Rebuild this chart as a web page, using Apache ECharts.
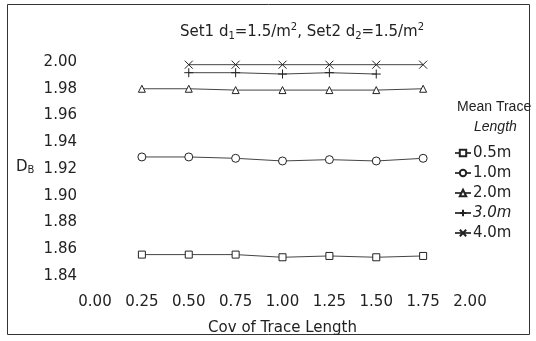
<!DOCTYPE html>
<html>
<head>
<meta charset="utf-8">
<script src="https://cdn.jsdelivr.net/npm/echarts@6/dist/echarts.min.js"></script>
<style>
  html, body { margin: 0; padding: 0; background: #fff; }
  #myChart { width: 536px; height: 341px; }
</style>
</head>
<body>
<div id="myChart"></div>
<script>
// cov of trace length (x)
var covAll = [0.25, 0.5, 0.75, 1.0, 1.25, 1.5, 1.75];
var cov3 = [0.5, 0.75, 1.0, 1.25, 1.5];
var cov4 = [0.5, 0.75, 1.0, 1.25, 1.5, 1.75];

// D_B values per mean trace length
var db05 = [1.856, 1.856, 1.856, 1.854, 1.855, 1.854, 1.855];
var db10 = [1.929, 1.929, 1.928, 1.926, 1.927, 1.926, 1.928];
var db20 = [1.980, 1.980, 1.979, 1.979, 1.979, 1.979, 1.980];
var db30 = [1.992, 1.992, 1.991, 1.992, 1.991];
var db40 = [1.998, 1.998, 1.998, 1.998, 1.998, 1.998];

var names = ['0.5m', '1.0m', '2.0m', '3.0m', '4.0m'];

var FONT = 'DejaVu Sans';
var INK = '#222';

function pairs(xs, ys) {
  var out = [];
  for (var i = 0; i < xs.length; i++) {
    out.push([xs[i], ys[i]]);
  }
  return out;
}

function mkSeries(name, xs, ys, symbol, size) {
  return {
    name: name,
    type: 'line',
    data: pairs(xs, ys),
    symbol: symbol,
    symbolSize: size,
    showAllSymbol: true,
    lineStyle: { color: '#444', width: 1 },
    itemStyle: { color: '#fff', borderColor: '#222', borderWidth: 1 },
    emphasis: { disabled: true },
    animation: false
  };
}

var plusPath = 'path://M0,5L10,5M5,0L5,10';
var crossPath = 'path://M0,0L10,10M10,0L0,10';

var myChart = echarts.init(document.getElementById('myChart'));

myChart.setOption({
  backgroundColor: '#fff',
  animation: false,
  title: {
    left: 297,
    top: 15,
    textAlign: 'center',
    text: '{a|Set1 d}{s|1}{a|=1.5/m}{p|2}{a|, Set2 d}{s|2}{a|=1.5/m}{p|2}',
    textStyle: {
      rich: {
        a: { fontFamily: FONT, fontWeight: 'normal', fontSize: 15, color: INK, lineHeight: 24, verticalAlign: 'middle' },
        s: { fontFamily: FONT, fontWeight: 'normal', fontSize: 10, color: INK, lineHeight: 24, verticalAlign: 'bottom', padding: [0, 0, 3, 0] },
        p: { fontFamily: FONT, fontWeight: 'normal', fontSize: 10, color: INK, lineHeight: 24, verticalAlign: 'top', padding: [2, 0, 0, 0] }
      }
    }
  },
  grid: {
    left: 95,
    right: 66,
    top: 62,
    bottom: 64
  },
  xAxis: {
    type: 'value',
    min: 0,
    max: 2,
    interval: 0.25,
    name: 'Cov of Trace Length',
    nameLocation: 'middle',
    nameGap: 45,
    nameTextStyle: { fontFamily: FONT, fontSize: 15, color: INK },
    axisLine: { show: false },
    axisTick: { show: false },
    splitLine: { show: false },
    axisLabel: {
      margin: 19,
      fontFamily: FONT,
      fontSize: 15,
      color: INK,
      formatter: function (v) { return v.toFixed(2); }
    }
  },
  yAxis: {
    type: 'value',
    min: 1.84,
    max: 2.00,
    interval: 0.02,
    axisLine: { show: false },
    axisTick: { show: false },
    splitLine: { show: false },
    axisLabel: {
      margin: 18,
      fontFamily: FONT,
      fontSize: 15,
      color: INK,
      formatter: function (v) { return v.toFixed(2); }
    }
  },
  legend: {
    orient: 'vertical',
    left: 449,
    top: 138,
    itemWidth: 16,
    itemHeight: 8,
    itemGap: 0,
    textStyle: { fontFamily: FONT, fontSize: 15, color: INK, lineHeight: 20, padding: [0, 0, 0, -3] },
    data: [
      { name: names[0] },
      { name: names[1] },
      { name: names[2] },
      { name: names[3], textStyle: { fontStyle: 'italic' } },
      { name: names[4] }
    ]
  },
  graphic: [
    {
      type: 'rect',
      shape: { x: 7.5, y: 4.5, width: 522, height: 330 },
      style: { fill: 'none', stroke: '#333', lineWidth: 1 },
      silent: true
    },
    {
      type: 'text',
      left: 457,
      top: 100,
      style: { text: 'Mean Trace', font: '14px "Liberation Sans"', fill: INK }
    },
    {
      type: 'text',
      left: 474,
      top: 120,
      style: { text: 'Length', font: 'italic 14px "Liberation Sans"', fill: INK }
    },
    {
      type: 'text',
      left: 16,
      top: 160,
      style: {
        text: '{d|D}{b|B}',
        rich: {
          d: { fontFamily: FONT, fontSize: 15, fill: INK, lineHeight: 20, verticalAlign: 'middle' },
          b: { fontFamily: FONT, fontSize: 10, fill: INK, lineHeight: 20, verticalAlign: 'bottom', padding: [0, 0, 2, 0] }
        }
      }
    }
  ],
  series: [
    mkSeries(names[0], covAll, db05, 'rect', 7),
    mkSeries(names[1], covAll, db10, 'circle', 8),
    mkSeries(names[2], covAll, db20, 'triangle', 7),
    mkSeries(names[3], cov3, db30, plusPath, 9),
    mkSeries(names[4], cov4, db40, crossPath, 8)
  ]
});
</script>
</body>
</html>
